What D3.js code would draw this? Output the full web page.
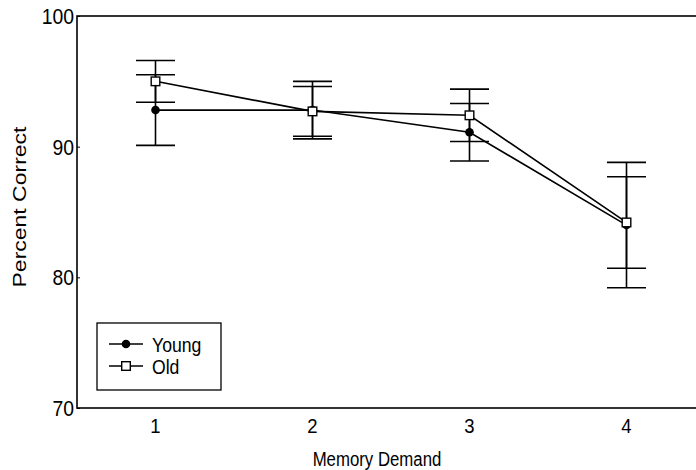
<!DOCTYPE html>
<html>
<head>
<meta charset="utf-8">
<script src="https://cdn.jsdelivr.net/npm/d3@7"></script>
<style>
  body { margin: 0; background: #fff; }
  text { font-family: "Liberation Sans", Arial, sans-serif; fill: #000; }
</style>
</head>
<body>
<svg id="chart" width="696" height="470"></svg>
<script>
const demand = [1, 2, 3, 4];
const youngMean = [92.8, 92.8, 91.1, 84.0];
const youngErr = [2.7, 2.2, 2.2, 4.8];
const oldMean = [95.0, 92.7, 92.4, 84.2];
const oldErr = [1.6, 1.9, 2.0, 3.5];
const yTicks = [70, 80, 90, 100];
const seriesNames = ["Young", "Old"];

const svg = d3.select("#chart");
const m = { left: 77, right: 705, top: 16, bottom: 408 };

const x = d3.scaleLinear().domain([0.5, 4.5]).range([m.left, m.right]);
const y = d3.scaleLinear().domain([70, 100]).range([m.bottom, m.top]);

// text in the scan is narrow and tall, so squeeze it sideways
const narrow = 0.84;

// frame
svg.append("rect")
  .attr("x", m.left).attr("y", m.top)
  .attr("width", m.right - m.left).attr("height", m.bottom - m.top)
  .attr("fill", "none").attr("stroke", "#000").attr("stroke-width", 1.6);

// axes
const yAxis = svg.append("g")
  .attr("transform", `translate(${m.left},0)`)
  .call(d3.axisRight(y).tickValues(yTicks).tickSize(3).tickFormat(""));
yAxis.select(".domain").remove();

svg.append("g").selectAll("text")
  .data(yTicks).join("text")
  .attr("transform", d => `translate(${m.left - 3},${y(d)}) scale(0.88,1)`)
  .attr("dy", "0.36em")
  .attr("text-anchor", "end")
  .attr("font-size", 22)
  .text(d => d);

svg.append("g").selectAll("text")
  .data(demand).join("text")
  .attr("transform", d => `translate(${x(d)},${m.bottom + 25}) scale(0.88,1)`)
  .attr("text-anchor", "middle")
  .attr("font-size", 21)
  .text(d => d);

svg.append("text")
  .attr("transform", `translate(377,466) scale(0.8,1)`)
  .attr("text-anchor", "middle")
  .attr("font-size", 21)
  .text("Memory Demand");

svg.append("text")
  .attr("transform", `translate(26,207) rotate(-90) scale(1,0.78)`)
  .attr("text-anchor", "middle")
  .attr("font-size", 23)
  .text("Percent Correct");

const series = [
  { name: seriesNames[0], mean: youngMean, err: youngErr, marker: "dot" },
  { name: seriesNames[1], mean: oldMean, err: oldErr, marker: "square" }
];

const capW = 19.5;
const line = d3.line().x((d, i) => x(demand[i])).y(d => y(d));

series.forEach(s => {
  const g = svg.append("g");
  // error bars
  const eb = g.selectAll(".eb").data(s.mean).join("g");
  eb.append("line")
    .attr("x1", (d, i) => x(demand[i])).attr("x2", (d, i) => x(demand[i]))
    .attr("y1", (d, i) => y(d - s.err[i])).attr("y2", (d, i) => y(d + s.err[i]))
    .attr("stroke", "#000").attr("stroke-width", 1.6);
  [-1, 1].forEach(sign => {
    eb.append("line")
      .attr("x1", (d, i) => x(demand[i]) - capW).attr("x2", (d, i) => x(demand[i]) + capW)
      .attr("y1", (d, i) => y(d + sign * s.err[i])).attr("y2", (d, i) => y(d + sign * s.err[i]))
      .attr("stroke", "#000").attr("stroke-width", 1.6);
  });
  g.append("path")
    .attr("d", line(s.mean))
    .attr("fill", "none").attr("stroke", "#000").attr("stroke-width", 1.6);
});

function drawMarker(sel, type, cx, cy) {
  if (type === "dot") {
    sel.append("circle").attr("cx", cx).attr("cy", cy).attr("r", 4.3).attr("fill", "#000");
  } else {
    sel.append("rect").attr("x", cx - 4.3).attr("y", cy - 4.3)
      .attr("width", 8.6).attr("height", 8.6)
      .attr("fill", "#fff").attr("stroke", "#000").attr("stroke-width", 1.4);
  }
}

series.forEach(s => {
  const g = svg.append("g");
  s.mean.forEach((d, i) => drawMarker(g, s.marker, x(demand[i]), y(d)));
});

// legend
const lg = svg.append("g");
lg.append("rect")
  .attr("x", 97).attr("y", 323).attr("width", 124).attr("height", 67)
  .attr("fill", "#fff").attr("stroke", "#000").attr("stroke-width", 1.3);
series.forEach((s, i) => {
  const ly = 344 + i * 22;
  lg.append("line").attr("x1", 109).attr("x2", 143).attr("y1", ly).attr("y2", ly)
    .attr("stroke", "#000").attr("stroke-width", 1.6);
  drawMarker(lg, s.marker, 126, ly);
  lg.append("text")
    .attr("transform", `translate(152,${ly}) scale(${narrow},1)`)
    .attr("dy", "0.36em")
    .attr("font-size", 21).text(s.name);
});
</script>
</body>
</html>
